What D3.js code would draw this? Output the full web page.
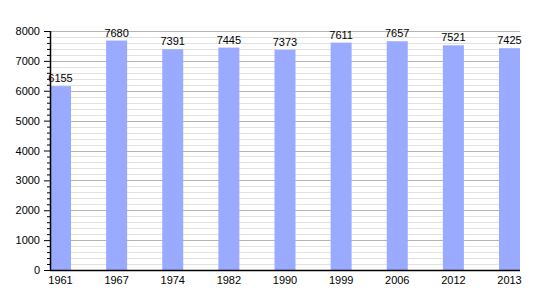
<!DOCTYPE html>
<html>
  <head>
    <title>Population</title>
    <script src="https://cdn.jsdelivr.net/npm/d3@7"></script>
    <style>
      body { margin: 0; background: #fff; }
      text { font-family: "Liberation Sans", Arial, sans-serif; }
    </style>
  </head>
  <body>
    <svg width="550" height="300" id="mainsvg"></svg>
    <script>
      const years = ['1961', '1967', '1974', '1982', '1990', '1999', '2006', '2012', '2013'];
      const population = [6155, 7680, 7391, 7445, 7373, 7611, 7657, 7521, 7425];
      const yTicks = [0, 1000, 2000, 3000, 4000, 5000, 6000, 7000, 8000];

      const data = years.map((y, i) => ({year: y, value: population[i]}));

      const svg = d3.select('#mainsvg');
      const margin = {top: 31, right: 30, bottom: 30, left: 50};
      const innerWidth = 550 - margin.left - margin.right;
      const innerHeight = 300 - margin.top - margin.bottom;

      const g = svg.append('g')
        .attr('transform', `translate(${margin.left}, ${margin.top})`);

      const xScale = d3.scaleBand()
        .domain(years)
        .range([0, innerWidth])
        .paddingInner(0.626)
        .paddingOuter(0);

      const yScale = d3.scaleLinear()
        .domain([0, 8000])
        .range([innerHeight, 0]);

      // minor grid every 200, major every 1000
      const minor = d3.range(0, 8001, 200).filter(v => v % 1000 !== 0);
      g.append('g').selectAll('line').data(minor).join('line')
        .attr('x1', 0).attr('x2', innerWidth)
        .attr('y1', d => Math.round(yScale(d)) + 0.5)
        .attr('y2', d => Math.round(yScale(d)) + 0.5)
        .attr('stroke', '#e2e2e2');
      g.append('g').selectAll('line').data(yTicks.slice(1)).join('line')
        .attr('x1', 0).attr('x2', innerWidth)
        .attr('y1', d => Math.round(yScale(d)) + 0.5)
        .attr('y2', d => Math.round(yScale(d)) + 0.5)
        .attr('stroke', '#b4b4b4');

      g.selectAll('rect').data(data).join('rect')
        .attr('x', d => xScale(d.year))
        .attr('y', d => yScale(d.value))
        .attr('width', xScale.bandwidth())
        .attr('height', d => innerHeight - yScale(d.value))
        .attr('fill', '#99aaff');

      g.selectAll('.val').data(data).join('text')
        .attr('class', 'val')
        .attr('x', d => xScale(d.year) + xScale.bandwidth() / 2)
        .attr('y', d => yScale(d.value) - 4)
        .attr('text-anchor', 'middle')
        .attr('font-size', '11px')
        .attr('fill', '#000')
        .text(d => d.value);

      // y axis with minor ticks
      const yAxis = d3.axisLeft(yScale).tickValues(yTicks).tickSize(6).tickPadding(4).tickFormat(d3.format('d'));
      const yMinor = d3.axisLeft(yScale).tickValues(minor).tickSize(3).tickFormat('');
      g.append('g').call(yMinor).call(s => s.select('.domain').remove());
      const yAxisGroup = g.append('g').call(yAxis);
      yAxisGroup.select('.domain').attr('d', `M0.5,0V${innerHeight}`).attr('stroke-width', 1.5);
      yAxisGroup.selectAll('.tick text').attr('font-size', '11px').attr('font-family', '"Liberation Sans", Arial, sans-serif');

      const xAxis = d3.axisBottom(xScale).tickSize(0).tickPadding(6);
      const xAxisGroup = g.append('g')
        .attr('transform', `translate(0, ${innerHeight})`)
        .call(xAxis);
      xAxisGroup.select('.domain').attr('d', `M0,0.5H${innerWidth}`).attr('stroke-width', 1.5);
      xAxisGroup.selectAll('.tick text').attr('font-size', '11px').attr('font-family', '"Liberation Sans", Arial, sans-serif');
    </script>
  </body>
</html>
